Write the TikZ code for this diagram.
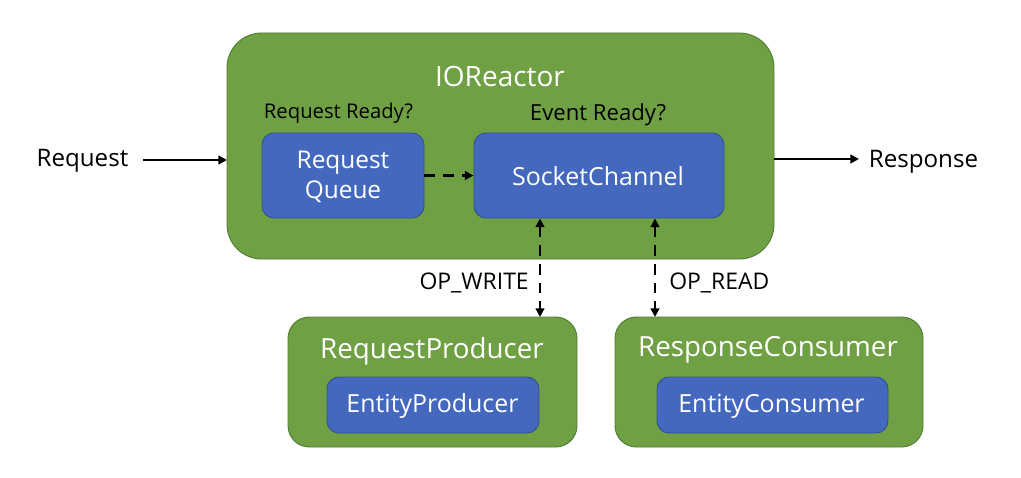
\documentclass[tikz,border=0pt]{standalone}
\usepackage{fontspec}
\setmainfont{Open Sans}
\usetikzlibrary{arrows.meta}
\definecolor{grn}{HTML}{70A044}
\definecolor{grnb}{HTML}{507E32}
\definecolor{blu}{HTML}{4468BE}
\definecolor{blub}{HTML}{2F528F}
\tikzset{
  outerbox/.style={draw=grnb, fill=grn, line width=0.7pt},
  innerbox/.style={draw=blub, fill=blu, line width=0.7pt, rounded corners=9pt},
  wlabel/.style={text=white, font=\fontsize{18.7}{23}\selectfont, align=center, inner sep=0pt},
  wtitle/.style={text=white, font=\fontsize{20.8}{24}\selectfont, inner sep=0pt},
  blabel/.style={text=black, inner sep=0pt},
  solidarrow/.style={line width=2pt, -{Triangle[length=6.5pt,width=6.5pt]}},
  dasharrow/.style={line width=2.2pt, dash pattern=on 8pt off 6pt, -{Triangle[length=6.5pt,width=6.5pt]}},
  dbldash/.style={line width=2.2pt, dash pattern=on 8pt off 6pt, {Triangle[length=6.5pt,width=6.5pt]}-{Triangle[length=6.5pt,width=6.5pt]}},
}
\begin{document}
\begin{tikzpicture}[x=0.75pt,y=-0.75pt]
\useasboundingbox (0,0) rectangle (1021,478);
% IOReactor
\draw[outerbox, rounded corners=26pt] (227,33) rectangle (774,259);
\node[wtitle, font=\fontsize{21}{24}\selectfont] (ior) at (500,76) {IOReactor};
\node[blabel, font=\fontsize{15.2}{18}\selectfont] (rr) at (338.5,113) {Request Ready?};
\node[blabel, font=\fontsize{16.6}{19}\selectfont] (er) at (598,115) {Event Ready?};
\node[innerbox, minimum width=121.5pt, minimum height=63.75pt] (rq) at (343,175.5) {};
\node[wlabel, font=\fontsize{18.3}{23}\selectfont] at (343,177) {Request\\Queue};
\node[innerbox, minimum width=187.5pt, minimum height=63.75pt] (sc) at (599,175.5) {};
\node[wlabel] at (598,176) {SocketChannel};
\draw[dasharrow] (rq.east) -- (sc.west |- rq.east);
% external
\node[blabel, font=\fontsize{18.1}{21}\selectfont] (req) at (82.5,161) {Request};
\node[blabel, font=\fontsize{18.1}{21}\selectfont] (resp) at (923.5,162) {Response};
\coordinate (iorL) at (227,160);
\coordinate (iorR) at (774,159);
\coordinate (reqE) at (143,160);
\coordinate (respW) at (859,159);
\draw[solidarrow] (reqE) -- (iorL);
\draw[solidarrow] (iorR) -- (respW);
% producer / consumer
\draw[outerbox, rounded corners=16pt] (288,317) rectangle (577,447);
\node[wtitle] (rp) at (432,351) {RequestProducer};
\node[innerbox, minimum width=159pt, minimum height=42pt] (ep) at (433,405) {};
\node[wlabel] at (432.5,406) {EntityProducer};
\draw[outerbox, rounded corners=16pt] (615,317) rectangle (923,447);
\node[wtitle] (rc) at (768,350) {ResponseConsumer};
\node[innerbox, minimum width=173.25pt, minimum height=42pt] (ec) at (772.5,405) {};
\node[wlabel] at (771.5,406) {EntityConsumer};
\coordinate (rpTop) at (540,317);
\coordinate (rcTop) at (655,317);
\draw[dbldash] (sc.south -| rpTop) -- (rpTop);
\draw[dbldash] (sc.south -| rcTop) -- (rcTop);
\node[blabel, font=\fontsize{17.2}{20}\selectfont, anchor=east] (opw) at (529,283) {OP\_WRITE};
\node[blabel, font=\fontsize{17.2}{20}\selectfont, anchor=west] (opr) at (669,283) {OP\_READ};
\end{tikzpicture}
\end{document}
